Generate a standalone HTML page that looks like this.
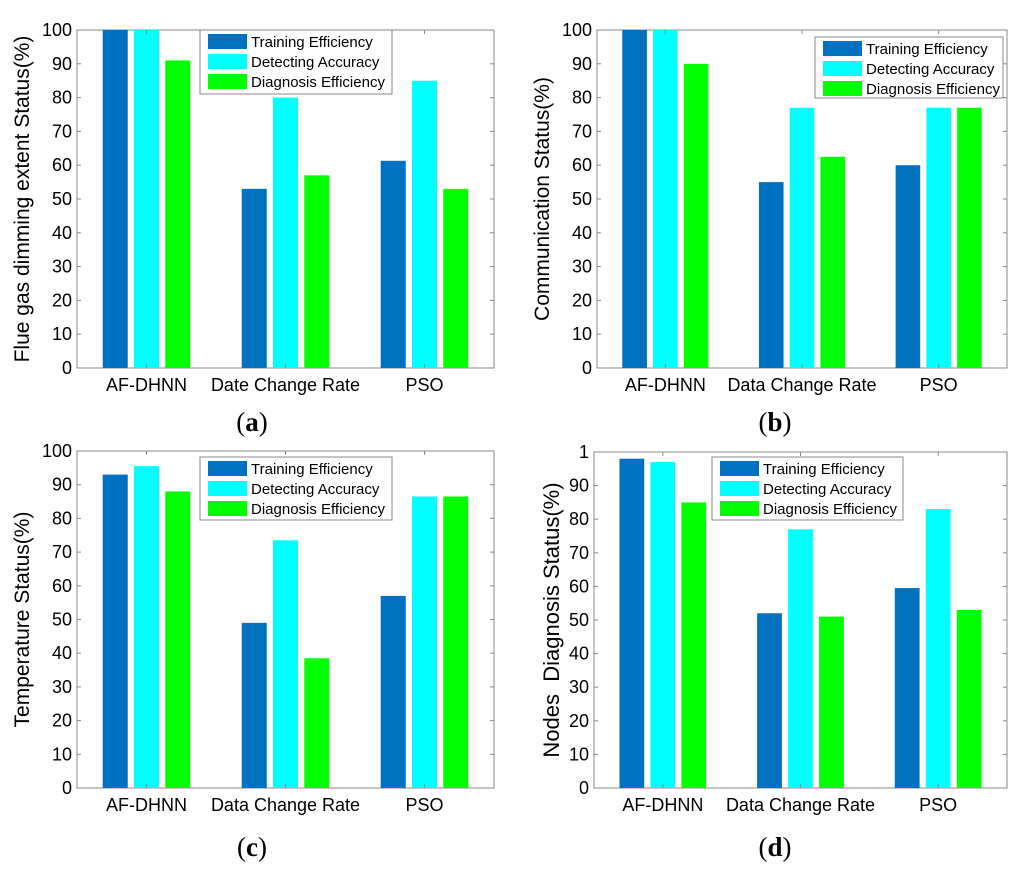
<!DOCTYPE html>
<html><head><meta charset="utf-8"><style>
body{margin:0;background:#fff;width:1024px;height:868px;overflow:hidden}
svg{font-family:"Liberation Sans",sans-serif}
</style></head><body>
<svg id="fig" width="1024" height="868"></svg>
<script>
const categoriesA=["AF-DHNN","Date Change Rate","PSO"];
const categoriesB=["AF-DHNN","Data Change Rate","PSO"];
const seriesNames=["Training Efficiency","Detecting Accuracy","Diagnosis Efficiency"];
const aTraining=[100,53,61.3], aDetecting=[100,80,85], aDiagnosis=[91,57,53];
const bTraining=[100,55,60], bDetecting=[100,77,77], bDiagnosis=[90,62.5,77];
const cTraining=[93,49,57], cDetecting=[95.5,73.5,86.5], cDiagnosis=[88,38.5,86.5];
const dTraining=[98,52,59.5], dDetecting=[97,77,83], dDiagnosis=[85,51,53];
const yTicks=[0,10,20,30,40,50,60,70,80,90,100];
const yTicksD=["0","10","20","30","40","50","60","70","80","90","1"];
const colors=["#0070c0","#00ffff","#00ff00"];
const NS="http://www.w3.org/2000/svg";
const svg=document.getElementById('fig');
function mk(tag,attrs,parent,text){const e=document.createElementNS(NS,tag);for(const k in attrs)e.setAttribute(k,attrs[k]);if(text!==undefined)e.textContent=text;(parent||svg).appendChild(e);return e;}
const panels=[
 {id:"a",x0:77,x1:494,y0:30,y1:368,cats:categoriesA,data:[aTraining,aDetecting,aDiagnosis],ylab:"Flue gas dimming extent Status(%)",ticks:yTicks,lg:[200,30,192,64],lab:[252,421],ylx:29,yfs:21},
 {id:"b",x0:597,x1:1007,y0:30,y1:368,cats:categoriesB,data:[bTraining,bDetecting,bDiagnosis],ylab:"Communication Status(%)",ticks:yTicks,lg:[815,37,188,61],lab:[775,421],ylx:549,yfs:21},
 {id:"c",x0:77,x1:494,y0:451,y1:788,cats:categoriesB,data:[cTraining,cDetecting,cDiagnosis],ylab:"Temperature Status(%)",ticks:yTicks,lg:[200,457,192,63],lab:[252,846],ylx:29,yfs:21},
 {id:"d",x0:594,x1:1007,y0:452,y1:788,cats:categoriesB,data:[dTraining,dDetecting,dDiagnosis],ylab:"Nodes\u00a0\u00a0Diagnosis Status(%)",ticks:yTicksD,lg:[712,457,191,63],lab:[775,846],ylx:559,yfs:22}
];
panels.forEach(p=>{
 const g=mk('g',{});
 
 
 const yS=v=>p.y1-(v/100)*(p.y1-p.y0);
 const step=(p.x1-p.x0)/3;
 const xC=i=>p.x0+step*(i+0.5);
 const bw=step*0.18, gap=step*0.225;
 mk('rect',{x:p.x0,y:p.y0,width:p.x1-p.x0,height:p.y1-p.y0,fill:"#fff",stroke:"#888","stroke-width":1},g);
 p.data.forEach((ser,s)=>{ser.forEach((v,i)=>{
  const cx=xC(i)+(s-1)*gap;
  const r=mk('rect',{x:cx-bw/2,y:yS(v),width:bw,height:p.y1-yS(v),fill:colors[s]},g);
  
  
 });});
 p.ticks.forEach((t,k)=>{const v=k*10,y=yS(v);
  mk('line',{x1:p.x0,x2:p.x0+4,y1:y,y2:y,stroke:"#888"},g);
  mk('line',{x1:p.x1,x2:p.x1-4,y1:y,y2:y,stroke:"#888"},g);
  const tx=mk('text',{x:p.x0-5,y:y+6,"text-anchor":"end","font-size":18,fill:"#000"},g,t);
  
  
 });
 p.cats.forEach((c,i)=>{
  mk('line',{x1:xC(i),x2:xC(i),y1:p.y1,y2:p.y1-4,stroke:"#888"},g);
  mk('line',{x1:xC(i),x2:xC(i),y1:p.y0,y2:p.y0+4,stroke:"#888"},g);
  const tx=mk('text',{x:xC(i),y:p.y1+23,"text-anchor":"middle","font-size":18},g,c);
  
  
 });
 const yl=mk('text',{x:0,y:0,"text-anchor":"middle","font-size":p.yfs,transform:`translate(${p.ylx},${(p.y0+p.y1)/2}) rotate(-90)`},g,p.ylab);
 
 
 const [lx,ly,lw,lh]=p.lg;
 const lgG=mk('g',{},g);
 
 
 mk('rect',{x:lx,y:ly,width:lw,height:lh,fill:"#fff",stroke:"#888"},lgG);
 seriesNames.forEach((n,s)=>{
  const yy=ly+4+s*20;
  mk('rect',{x:lx+8,y:yy,width:39,height:15,fill:colors[s]},lgG);
  const t=mk('text',{x:lx+51,y:yy+13,"font-size":15},lgG,n);
  
  
 });
 const pl=mk('text',{x:p.lab[0],y:p.lab[1]+10,"text-anchor":"middle","font-size":27,"font-family":"Liberation Serif, serif"},g);
 mk('tspan',{},pl,"(");
 mk('tspan',{"font-weight":"bold"},pl,p.id);
 mk('tspan',{},pl,")");
 
 
});
</script>
</body></html>
